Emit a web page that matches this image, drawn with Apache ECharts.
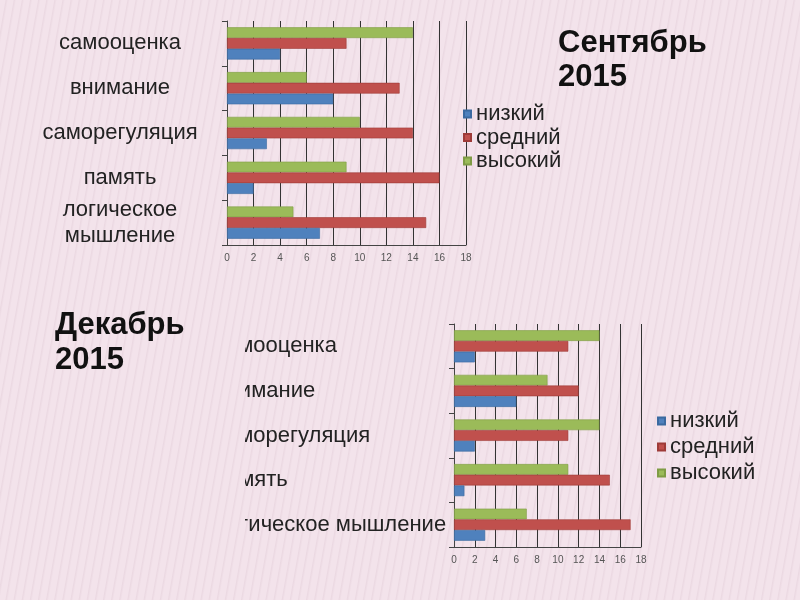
<!DOCTYPE html>
<html lang="ru">
<head>
    <meta http-equiv="Content-Type" content="text/html; charset=utf-8"/>
    <title>Сентябрь / Декабрь 2015</title>
    <script type="text/javascript" src="https://cdn.jsdelivr.net/npm/echarts@6/dist/echarts.min.js"></script>
</head>
<style>
    * {
        margin: 0;
        padding: 0;
    }
    html, body {
        width: 800px;
        height: 600px;
        overflow: hidden;
    }
    body {
        background-color: #f3e3eb;
        background-image: repeating-linear-gradient(100deg, rgba(255,255,255,0) 0px, rgba(255,255,255,0) 5px, rgba(200,170,185,0.18) 6px, rgba(255,255,255,0) 8px);
        position: relative;
    }
    #sep {
        position: absolute;
        left: 0;
        top: 0;
        width: 800px;
        height: 600px;
    }
    #dec {
        position: absolute;
        left: 245px;
        top: 300px;
        width: 555px;
        height: 300px;
    }
</style>
<body>
<div id="sep"></div>
<div id="dec"></div>
</body>
<script type="text/javascript">
    // категории (снизу вверх)
    var categories = ['логическое мышление', 'память', 'саморегуляция', 'внимание', 'самооценка'];
    var levels = ['низкий', 'средний', 'высокий'];
    var colors = ['#4f81bd', '#c0504d', '#9bbb59'];
    var borders = ['#3b6aa0', '#9e3b38', '#7f9c45'];

    // Сентябрь 2015
    var sepLow = [7, 2, 3, 8, 4];
    var sepMid = [15, 16, 14, 13, 9];
    var sepHigh = [5, 9, 10, 6, 14];

    // Декабрь 2015
    var decLow = [3, 1, 2, 6, 2];
    var decMid = [17, 15, 11, 12, 11];
    var decHigh = [7, 11, 14, 9, 14];

    var font = '"Liberation Sans", Arial, sans-serif';

    // высокий сверху, низкий снизу в каждой группе
    function makeSeries(lists) {
        var out = [];
        for (var i = lists.length - 1; i >= 0; i--) {
            out.push({
                name: levels[i],
                type: 'bar',
                data: lists[i],
                barGap: '0%',
                barCategoryGap: '28%',
                itemStyle: {color: colors[i], borderColor: borders[i], borderWidth: 0.6},
                silent: true
            });
        }
        return out;
    }

    function valueAxis() {
        return {
            type: 'value',
            min: 0,
            max: 18,
            interval: 2,
            axisLine: {show: true, lineStyle: {color: '#444', width: 1}},
            axisTick: {show: false},
            axisLabel: {fontSize: 10, color: '#555', fontFamily: font, margin: 8},
            splitLine: {show: true, lineStyle: {color: '#333', width: 1}}
        };
    }

    function legend(left, top, gap) {
        return {
            data: levels,
            orient: 'vertical',
            left: left,
            top: top,
            itemWidth: 7,
            itemHeight: 7,
            itemGap: gap,
            icon: 'rect',
            textStyle: {fontSize: 22, color: '#222', fontFamily: font, lineHeight: 22}
        };
    }

    // верхняя диаграмма + заголовки
    var sepChart = echarts.init(document.getElementById('sep'));
    sepChart.setOption({
        animation: false,
        title: [
            {
                text: 'Сентябрь\n2015',
                left: 553,
                top: 21,
                textStyle: {fontSize: 31, fontWeight: 'bold', color: '#111', lineHeight: 34, fontFamily: font}
            },
            {
                text: 'Декабрь\n2015',
                left: 50,
                top: 303,
                textStyle: {fontSize: 31, fontWeight: 'bold', color: '#111', lineHeight: 35, fontFamily: font}
            }
        ],
        legend: legend(458, 98, 1.5),
        grid: {left: 227, right: 334, top: 21, bottom: 355, outerBoundsMode: 'none'},
        xAxis: valueAxis(),
        yAxis: {
            type: 'category',
            data: categories,
            axisLine: {show: true, lineStyle: {color: '#444', width: 1}},
            axisTick: {show: true, length: 5, lineStyle: {color: '#444'}},
            axisLabel: {
                fontSize: 22,
                color: '#222',
                fontFamily: font,
                align: 'center',
                margin: 107,
                lineHeight: 26,
                formatter: function (v) {
                    return v === 'логическое мышление' ? 'логическое\nмышление' : v;
                }
            },
            splitLine: {show: false}
        },
        series: makeSeries([sepLow, sepMid, sepHigh])
    });

    // нижняя диаграмма (подписи слева обрезаны краем)
    var decChart = echarts.init(document.getElementById('dec'));
    decChart.setOption({
        animation: false,
        legend: legend(407, 105, 4),
        grid: {left: 209, right: 159, top: 24, bottom: 53, outerBoundsMode: 'none'},
        xAxis: valueAxis(),
        yAxis: {
            type: 'category',
            data: categories,
            axisLine: {show: true, lineStyle: {color: '#444', width: 1}},
            axisTick: {show: true, length: 5, lineStyle: {color: '#444'}},
            axisLabel: {
                fontSize: 22,
                color: '#222',
                fontFamily: font,
                align: 'left',
                margin: 239
            },
            splitLine: {show: false}
        },
        series: makeSeries([decLow, decMid, decHigh])
    });
</script>

</html>
